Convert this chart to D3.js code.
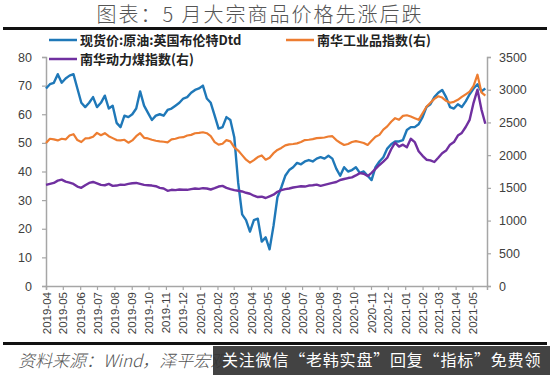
<!DOCTYPE html>
<html>
<head>
<meta charset="utf-8">
<script src="https://cdn.jsdelivr.net/npm/d3@7"></script>
<style>
  body { margin: 0; background: #fff; }
  svg { display: block; font-family: "Liberation Sans", Arial, sans-serif; }
</style>
</head>
<body>
<svg id="chart" width="550" height="375"></svg>
<script>
'use strict';

// Weekly readings, first week starts 2019-04-01
var startDate = '2019-04-01';
var endDate = '2021-05-27';

// 现货价:原油:英国布伦特Dtd (left axis, USD/bbl)
var brent = [
  69, 70.5, 71, 74, 71, 72.5, 73.5, 74, 69, 64,
  62.5, 64, 66, 62.5, 64, 66.5, 62, 63, 57, 55.5,
  59.5, 59, 60, 62, 68, 63, 60.5, 58, 59.5, 60,
  59.5, 61.5, 62, 63, 64, 65.5, 66, 67.5, 68.5, 69,
  70, 65.5, 64, 59.5, 55, 55.5, 59, 58, 52, 36,
  25, 23, 19, 23, 23.5, 15.5, 17, 12.8, 21, 31,
  34.5, 38.5, 40.5, 41.5, 43, 42.5, 43.5, 44, 43.5, 44.5,
  45, 44.5, 45.5, 44.5, 41, 38.5, 41.5, 40, 40.5, 41.5,
  39.5, 40, 38.5, 37, 41.5, 43.5, 45, 48, 49.5, 50.5,
  50.5, 51, 54.5, 55.5, 55.5, 56.5, 59, 62.5, 63.5, 66,
  67.5, 68.5, 66, 62.5, 62, 63.5, 62.5, 64.5, 67, 69,
  70.5, 68, 69
];

// 南华工业品指数 (right axis)
var nhIndustrial = [
  2185, 2250, 2240, 2225, 2250, 2240, 2300, 2320, 2230, 2200,
  2255, 2260, 2280, 2340, 2305, 2335, 2290, 2260, 2230, 2225,
  2235, 2190, 2225, 2290, 2335, 2265, 2255, 2235, 2220, 2210,
  2205, 2195, 2240, 2250, 2270, 2275, 2300, 2310, 2335, 2340,
  2350, 2335, 2290, 2200, 2160, 2175, 2230, 2210, 2120, 2070,
  2000, 1930, 1885, 1925, 1970, 1995, 1930, 1960, 2030, 2080,
  2110, 2150, 2165, 2170, 2180, 2200, 2230, 2235, 2245, 2260,
  2265, 2270, 2285, 2290, 2230, 2190, 2155, 2170, 2200, 2215,
  2200, 2185, 2155, 2220, 2280, 2310, 2390, 2440, 2510, 2565,
  2540, 2600, 2610, 2590, 2565, 2540, 2640, 2740, 2800, 2860,
  2900, 2880, 2830, 2800, 2815, 2845, 2890, 2930, 2970, 3060,
  3230, 2960, 2910
];

// 南华动力煤指数 (right axis)
var nhCoal = [
  1545, 1560, 1575, 1610, 1625, 1595, 1580, 1560, 1520, 1500,
  1540, 1575, 1590, 1570, 1545, 1540, 1560, 1530, 1535, 1550,
  1545, 1560, 1570, 1575, 1560, 1545, 1540, 1535, 1525, 1500,
  1490, 1455, 1470, 1465, 1475, 1470, 1470, 1480, 1490, 1485,
  1495, 1490, 1475, 1495, 1520, 1530, 1500, 1480, 1465, 1455,
  1445, 1425, 1410, 1380, 1360, 1365, 1345, 1370, 1395, 1440,
  1465, 1480, 1490, 1505, 1515, 1525, 1520, 1535, 1540, 1550,
  1530, 1545, 1560, 1575, 1590, 1620, 1635, 1650, 1660, 1690,
  1725, 1715, 1680, 1730, 1790, 1850, 1900, 1960, 2090, 2190,
  2130, 2160, 2120, 2250, 2200, 2060, 1990, 1930, 1920, 1895,
  1960, 2030, 2070, 2160, 2200, 2300, 2340, 2430, 2540, 2800,
  3000, 2700, 2480
];

var monthTicks = [
  '2019-04', '2019-05', '2019-06', '2019-07', '2019-08', '2019-09', '2019-10',
  '2019-11', '2019-12', '2020-01', '2020-02', '2020-03', '2020-04', '2020-05',
  '2020-06', '2020-07', '2020-08', '2020-09', '2020-10', '2020-11', '2020-12',
  '2021-01', '2021-02', '2021-03', '2021-04', '2021-05'
];
var leftTicks = [0, 10, 20, 30, 40, 50, 60, 70, 80];
var rightTicks = [0, 500, 1000, 1500, 2000, 2500, 3000, 3500];

var seriesNames = ['现货价:原油:英国布伦特Dtd', '南华工业品指数(右)', '南华动力煤指数(右)'];
var seriesColors = ['#1f78b8', '#ed7d31', '#7030a0'];

var titleText = '图表：5 月大宗商品价格先涨后跌';
var sourceText = '资料来源：Wind，泽平宏观';
var bannerText = '关注微信“老韩实盘”回复“指标”免费领';

(function() {
  var parseDay = d3.utcParse('%Y-%m-%d'),
    parseMonth = d3.utcParse('%Y-%m');

  var t0 = parseDay(startDate);
  var dates = brent.map(function(d, i) { return d3.utcDay.offset(t0, 7 * i); });

  var svg = d3.select('#chart');
  var plotLeft = 46, plotRight = 487, plotTop = 57, plotBottom = 286;

  var x = d3.scaleUtc().domain([t0, parseDay(endDate)]).range([plotLeft, plotRight]);
  var yL = d3.scaleLinear().domain([0, 80]).range([plotBottom, plotTop]);
  var yR = d3.scaleLinear().domain([0, 3500]).range([plotBottom, plotTop]);

  var cjk = '"Noto Sans CJK SC", "Noto Sans", sans-serif';

  // title + rules
  svg.append('text')
    .attr('x', 260).attr('y', 22)
    .attr('text-anchor', 'middle')
    .style('font-family', cjk)
    .style('font-weight', 300)
    .style('font-size', '20px')
    .style('letter-spacing', '2px')
    .attr('fill', '#555')
    .text(titleText);

  svg.append('rect').attr('x', 3).attr('y', 27).attr('width', 544).attr('height', 3).attr('fill', '#111');
  svg.append('rect').attr('x', 3).attr('y', 342).attr('width', 544).attr('height', 3).attr('fill', '#111');

  // axes
  var axisColor = '#a6a6a6', labelColor = '#404040';

  var gL = svg.append('g')
    .attr('transform', 'translate(' + plotLeft + ',0)')
    .call(d3.axisLeft(yL).tickValues(leftTicks).tickSize(4).tickPadding(10));

  var gR = svg.append('g')
    .attr('transform', 'translate(' + plotRight + ',0)')
    .call(d3.axisRight(yR).tickValues(rightTicks).tickFormat(d3.format('d'))
      .tickSize(4).tickPadding(8));

  var gX = svg.append('g')
    .attr('transform', 'translate(0,' + plotBottom + ')')
    .call(d3.axisBottom(x)
      .tickValues(monthTicks.map(function(m) { return parseMonth(m); }))
      .tickFormat(d3.utcFormat('%Y-%m'))
      .tickSize(4));

  gX.selectAll('text')
    .attr('x', -6).attr('y', 0).attr('dy', '0.35em')
    .attr('transform', 'rotate(-90)')
    .style('text-anchor', 'end')
    .style('font-size', '11.5px');

  [gL, gR, gX].forEach(function(g) {
    g.select('.domain').attr('stroke', axisColor).attr('stroke-width', 1.5);
    g.selectAll('.tick line').attr('stroke', axisColor).attr('stroke-width', 1.2);
    g.selectAll('text').attr('fill', labelColor);
  });
  gL.selectAll('text').style('font-size', '12.5px');
  gR.selectAll('text').style('font-size', '12.5px');

  // lines
  var lineL = d3.line()
    .x(function(d, i) { return x(dates[i]); })
    .y(function(d) { return yL(d); });
  var lineR = d3.line()
    .x(function(d, i) { return x(dates[i]); })
    .y(function(d) { return yR(d); });

  svg.append('path').datum(brent)
    .attr('d', lineL).attr('fill', 'none')
    .attr('stroke', seriesColors[0]).attr('stroke-width', 2.4)
    .attr('stroke-linejoin', 'round');
  svg.append('path').datum(nhIndustrial)
    .attr('d', lineR).attr('fill', 'none')
    .attr('stroke', seriesColors[1]).attr('stroke-width', 2.2)
    .attr('stroke-linejoin', 'round');
  svg.append('path').datum(nhCoal)
    .attr('d', lineR).attr('fill', 'none')
    .attr('stroke', seriesColors[2]).attr('stroke-width', 2.4)
    .attr('stroke-linejoin', 'round');

  // legend
  var legendPos = [[49, 40], [286, 40], [49, 59]];
  seriesNames.forEach(function(name, i) {
    var p = legendPos[i];
    svg.append('line')
      .attr('x1', p[0]).attr('x2', p[0] + 28)
      .attr('y1', p[1]).attr('y2', p[1])
      .attr('stroke', seriesColors[i]).attr('stroke-width', 2.5);
    svg.append('text')
      .attr('x', p[0] + 31).attr('y', p[1] + 4.5)
      .style('font-family', cjk)
      .style('font-weight', 700)
      .style('font-size', '13px')
      .attr('fill', '#222')
      .text(name);
  });

  // source + banner
  svg.append('text')
    .attr('x', 18).attr('y', 367)
    .style('font-family', cjk)
    .style('font-style', 'italic')
    .style('font-weight', 300)
    .style('font-size', '17px')
    .attr('fill', '#555')
    .text(sourceText);

  svg.append('rect')
    .attr('x', 213).attr('y', 346).attr('width', 337).attr('height', 29)
    .attr('fill', '#333').attr('fill-opacity', 0.92);
  svg.append('text')
    .attr('x', 222).attr('y', 366)
    .style('font-family', cjk)
    .style('font-size', '16px')
    .style('letter-spacing', '0.8px')
    .attr('fill', '#fff')
    .text(bannerText);
})();
</script>
</body>
</html>
